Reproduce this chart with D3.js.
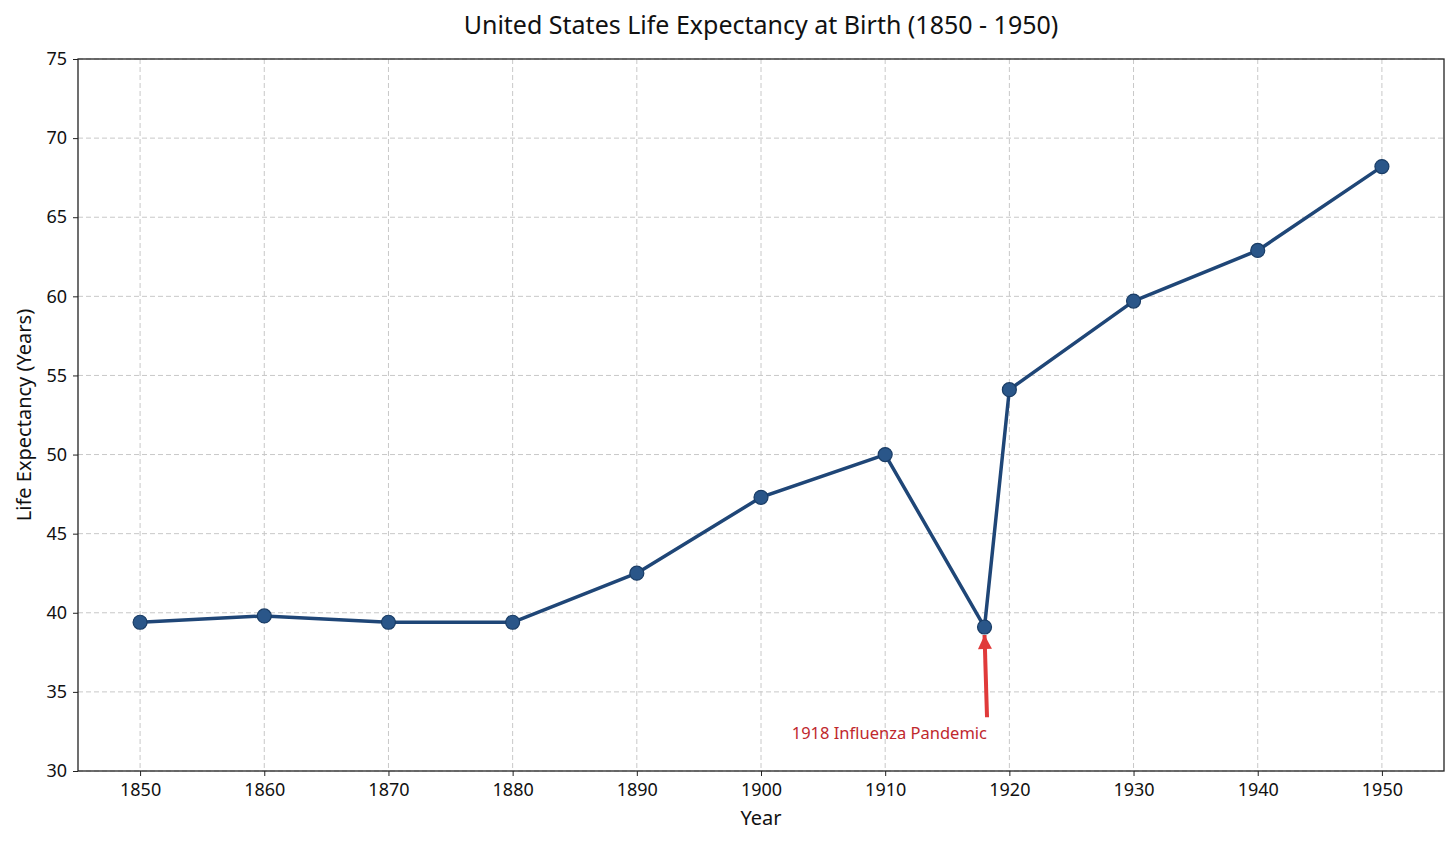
<!DOCTYPE html>
<html>
<head>
<meta charset="utf-8">
<script src="https://cdn.jsdelivr.net/npm/d3@7"></script>
<style>
  body { margin: 0; background: #fff; }
  text { font-family: "Noto Sans", sans-serif; }
</style>
</head>
<body>
<div id="chart"></div>
<script>
var years = [1850, 1860, 1870, 1880, 1890, 1900, 1910, 1918, 1920, 1930, 1940, 1950];
var lifeExp = [39.4, 39.8, 39.4, 39.4, 42.5, 47.3, 50.0, 39.1, 54.1, 59.7, 62.9, 68.2];
var xTicks = [1850, 1860, 1870, 1880, 1890, 1900, 1910, 1920, 1930, 1940, 1950];
var yTicks = [30, 35, 40, 45, 50, 55, 60, 65, 70, 75];
var noteText = "1918 Influenza Pandemic";
var notePoint = [1918, 39.1];
var noteTail = [1918.2, 33.4];
var noteLabel = [1918.2, 32.0];

var w = 1456;
var h = 842;
var m = {top: 59, right: 12, bottom: 71, left: 78};

var svg = d3.select('#chart')
            .append('svg')
            .attr('width', w)
            .attr('height', h);

var xScale = d3.scaleLinear()
               .domain([1845, 1955])
               .range([m.left, w - m.right]);

var yScale = d3.scaleLinear()
               .domain([30, 75])
               .range([h - m.bottom, m.top]);

// grid
svg.append('g')
   .selectAll('line')
   .data(xTicks)
   .enter()
   .append('line')
   .attr('x1', function(d) { return xScale(d); })
   .attr('x2', function(d) { return xScale(d); })
   .attr('y1', m.top)
   .attr('y2', h - m.bottom)
   .attr('stroke', '#c8c8c8')
   .attr('stroke-width', 1)
   .attr('stroke-dasharray', '5,3');

svg.append('g')
   .selectAll('line')
   .data(yTicks)
   .enter()
   .append('line')
   .attr('x1', m.left)
   .attr('x2', w - m.right)
   .attr('y1', function(d) { return yScale(d); })
   .attr('y2', function(d) { return yScale(d); })
   .attr('stroke', '#c8c8c8')
   .attr('stroke-width', 1)
   .attr('stroke-dasharray', '5,3');

// axes
var xAxis = svg.append('g')
   .attr('transform', 'translate(0,' + (h - m.bottom) + ')')
   .call(d3.axisBottom(xScale).tickValues(xTicks).tickFormat(d3.format('d')).tickSize(5).tickPadding(7));

var yAxis = svg.append('g')
   .attr('transform', 'translate(' + m.left + ',0)')
   .call(d3.axisLeft(yScale).tickValues(yTicks).tickSize(5).tickPadding(6));

[xAxis, yAxis].forEach(function(a) {
    a.select('.domain').remove();
    a.selectAll('text')
     .attr('font-family', '"Noto Sans", sans-serif')
     .attr('font-size', '18px')
     .attr('fill', '#111');
    a.selectAll('line').attr('stroke', '#222');
});

// frame
svg.append('rect')
   .attr('x', m.left)
   .attr('y', m.top)
   .attr('width', w - m.left - m.right)
   .attr('height', h - m.top - m.bottom)
   .attr('fill', 'none')
   .attr('stroke', '#222')
   .attr('stroke-width', 1.3);

// line
var line = d3.line()
   .x(function(d, i) { return xScale(years[i]); })
   .y(function(d) { return yScale(d); });

svg.append('path')
   .datum(lifeExp)
   .attr('d', line)
   .attr('fill', 'none')
   .attr('stroke', '#1f4677')
   .attr('stroke-width', 3.5)
   .attr('stroke-linejoin', 'round');

svg.selectAll('circle.pt')
   .data(lifeExp)
   .enter()
   .append('circle')
   .attr('class', 'pt')
   .attr('cx', function(d, i) { return xScale(years[i]); })
   .attr('cy', function(d) { return yScale(d); })
   .attr('r', 7)
   .attr('fill', '#2a5689')
   .attr('stroke', '#1a3d66')
   .attr('stroke-width', 1.2);

// annotation arrow
svg.append('defs')
   .append('marker')
   .attr('id', 'arrowhead')
   .attr('viewBox', '0 0 10 10')
   .attr('refX', 10)
   .attr('refY', 5)
   .attr('markerWidth', 18)
   .attr('markerHeight', 14)
   .attr('orient', 'auto')
   .attr('markerUnits', 'userSpaceOnUse')
   .append('path')
   .attr('d', 'M0,0 L10,5 L0,10 z')
   .attr('fill', '#e03a3a');

svg.append('line')
   .attr('x1', xScale(noteTail[0]))
   .attr('y1', yScale(noteTail[1]))
   .attr('x2', xScale(notePoint[0]))
   .attr('y2', yScale(notePoint[1]) + 8)
   .attr('stroke', '#e03a3a')
   .attr('stroke-width', 4)
   .attr('marker-end', 'url(#arrowhead)');

svg.append('text')
   .attr('x', xScale(noteLabel[0]))
   .attr('y', yScale(noteLabel[1]))
   .attr('text-anchor', 'end')
   .attr('font-size', '16.5px')
   .attr('fill', '#c0282d')
   .text(noteText);

// titles
svg.append('text')
   .attr('x', (m.left + w - m.right) / 2)
   .attr('y', 34)
   .attr('text-anchor', 'middle')
   .attr('font-size', '25px')
   .attr('fill', '#111')
   .text('United States Life Expectancy at Birth (1850 - 1950)');

svg.append('text')
   .attr('x', (m.left + w - m.right) / 2)
   .attr('y', 825)
   .attr('text-anchor', 'middle')
   .attr('font-size', '20px')
   .attr('fill', '#111')
   .text('Year');

svg.append('text')
   .attr('transform', 'translate(31,' + ((m.top + h - m.bottom) / 2) + ') rotate(-90)')
   .attr('text-anchor', 'middle')
   .attr('font-size', '20px')
   .attr('fill', '#111')
   .text('Life Expectancy (Years)');
</script>
</body>
</html>
